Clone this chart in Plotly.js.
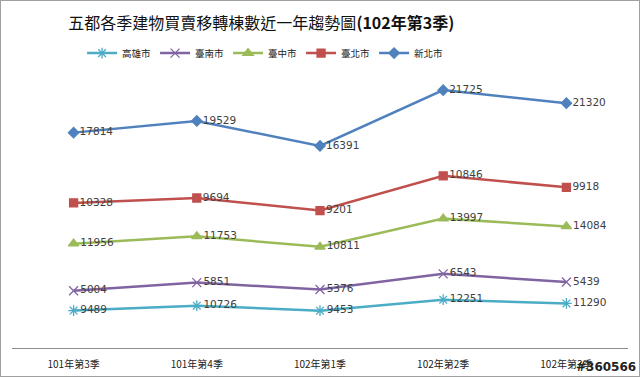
<!DOCTYPE html>
<html><head><meta charset="utf-8">
<script src="https://cdn.plot.ly/plotly-3.0.1.min.js"></script>
<style>html,body{margin:0;padding:0;background:#fff}#c{width:638px;height:375px;border:1px solid #a0a0a0}</style>
</head><body><div id="c"></div>
<script>
const categories = ['101年第3季','101年第4季','102年第1季','102年第2季','102年第3季'];
const seriesNames = ['高雄市','臺南市','臺中市','臺北市','新北市'];
const kaohsiung = [9489, 10726, 9453, 12251, 11290];
const tainan = [5004, 5851, 5376, 6543, 5439];
const taichung = [11956, 11753, 10811, 13997, 14084];
const taipei = [10328, 9694, 9201, 10846, 9918];
const newTaipei = [17814, 19529, 16391, 21725, 21320];

const values = [kaohsiung, tainan, taichung, taipei, newTaipei];
const colors = ['#4BACC6','#8064A2','#9BBB59','#C0504D','#4F81BD'];
const symbols = ['asterisk-open','x-thin-open','triangle-up','square','diamond'];
const sizes = [9, 9, 9, 8, 8];

const traces = values.map((v,i)=>({
  x: categories, y: v, name: seriesNames[i], type:'scatter',
  stackgroup:'one', fill:'none',
  mode:'lines+markers+text', text: v.map(String), textposition:'middle right',
  textfont:{size:10.5, color:'#404040', family:'DejaVu Sans'},
  line:{color:colors[i], width:2.5},
  marker:{symbol:symbols[i], size:sizes[i], color:colors[i], line:{color:colors[i], width:1.3}},
  hoverinfo:'skip'
}));

const layout = {
  width:638, height:375,
  margin:{l:11, r:11, t:59, b:28, autoexpand:false},
  paper_bgcolor:'#fff', plot_bgcolor:'#fff',
  title:{text:'五都各季建物買賣移轉棟數近一年趨勢圖<b>(102年第3季)</b>', x:0.408, xanchor:'center', y:0.941, yanchor:'middle',
    font:{family:'Noto Sans CJK TC', size:16, color:'#111'}},
  showlegend:true,
  legend:{orientation:'h', x:0.41, xanchor:'center', y:1.024, yanchor:'middle', yref:'paper',
    font:{family:'Noto Sans CJK TC', size:9.5, color:'#222'}, traceorder:'normal', itemwidth:30,
    entrywidth:28, entrywidthmode:'pixels'},
  xaxis:{type:'category', range:[-0.5,4.5], showline:true, linecolor:'#8c8c8c', linewidth:1,
    ticks:'', showgrid:false, zeroline:false, ticklabelstandoff:7,
    tickfont:{family:'Noto Sans CJK TC', size:10, color:'#222'}},
  yaxis:{visible:false, range:[0,73000], showgrid:false, zeroline:false},
  annotations:[{text:'<b>#360566</b>', xref:'paper', yref:'paper', x:1.017, y:-0.097, xanchor:'right', yanchor:'bottom',
    showarrow:false, font:{family:'DejaVu Sans', size:12, color:'#222'}}]
};
Plotly.newPlot('c', traces, layout, {displayModeBar:false, staticPlot:true});
</script></body></html>
